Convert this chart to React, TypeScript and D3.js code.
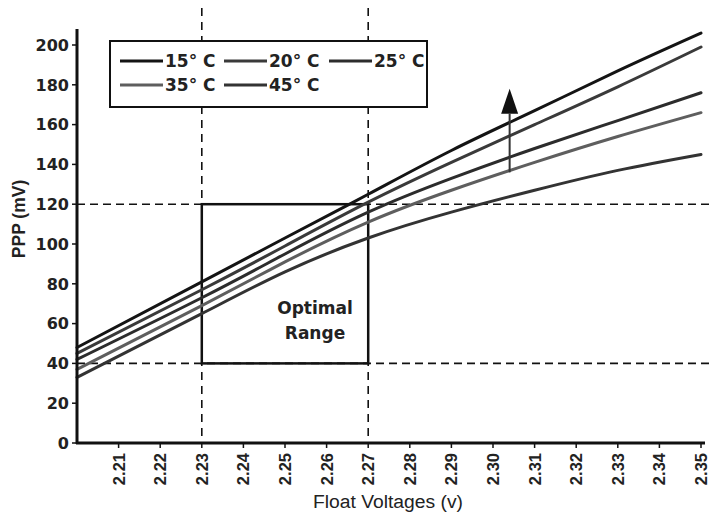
import * as d3 from "d3";

const VOLTAGES = [2.2, 2.23, 2.25, 2.27, 2.29, 2.31, 2.33, 2.35];
const PPP_15 = [48, 81, 103, 125, 147, 167, 187, 206];
const PPP_20 = [45, 77, 99, 121, 141, 160, 179, 199];
const PPP_25 = [42, 73, 95, 116, 133, 148, 162, 176];
const PPP_35 = [37, 69, 91, 111, 127, 141, 154, 166];
const PPP_45 = [33, 65, 86, 103, 116, 127, 137, 145];

const SERIES = [
  { label: "15° C", values: PPP_15, color: "#141414" },
  { label: "20° C", values: PPP_20, color: "#3a3a3a" },
  { label: "25° C", values: PPP_25, color: "#2c2c2c" },
  { label: "35° C", values: PPP_35, color: "#5e5e5e" },
  { label: "45° C", values: PPP_45, color: "#333333" },
];

const X_TICKS = [2.21, 2.22, 2.23, 2.24, 2.25, 2.26, 2.27, 2.28, 2.29, 2.3, 2.31, 2.32, 2.33, 2.34, 2.35];
const Y_TICKS = [0, 20, 40, 60, 80, 100, 120, 140, 160, 180, 200];
const OPTIMAL_V = [2.23, 2.27];
const OPTIMAL_PPP = [40, 120];
const ARROW = { v: 2.304, from: 136, to: 178 };

const WIDTH = 711;
const HEIGHT = 515;
const INK = "#111";
const BOLD_WIDE = "'DejaVu Sans', sans-serif";
const ARIAL = "'Liberation Sans', Arial, sans-serif";

const x = d3.scaleLinear().domain([2.2, 2.35]).range([77, 701]);
const y = d3.scaleLinear().domain([0, 200]).range([443, 45]);

type Pt = { v: number; p: number };

export default function App() {
  const line = d3
    .line<Pt>()
    .x((d) => x(d.v))
    .y((d) => y(d.p))
    .curve(d3.curveNatural);

  const ax = x(ARROW.v);
  const headBase = y(ARROW.to) + 25;

  // legend layout: three columns, two rows
  const legendCols = [120, 224, 329];
  const legendRows = [61, 85];

  return (
    <svg width={WIDTH} height={HEIGHT} style={{ position: "absolute", left: 0, top: 0, background: "#fff" }}>
      <rect width={WIDTH} height={HEIGHT} fill="#fff" />

      {/* dashed guide lines */}
      {OPTIMAL_V.map((v) => (
        <line key={v} x1={x(v)} x2={x(v)} y1={8} y2={y(0)} stroke={INK} strokeWidth={1.6} strokeDasharray="8 6" />
      ))}
      {OPTIMAL_PPP.map((p) => (
        <line key={p} x1={x(2.2)} x2={WIDTH} y1={y(p)} y2={y(p)} stroke={INK} strokeWidth={1.6} strokeDasharray="8 5" />
      ))}

      {/* optimal box */}
      <rect
        x={x(OPTIMAL_V[0])}
        y={y(OPTIMAL_PPP[1])}
        width={x(OPTIMAL_V[1]) - x(OPTIMAL_V[0])}
        height={y(OPTIMAL_PPP[0]) - y(OPTIMAL_PPP[1])}
        fill="none"
        stroke={INK}
        strokeWidth={2.5}
      />
      <text x={315} y={314} fontFamily={BOLD_WIDE} fontWeight="bold" fontSize={17} textAnchor="middle" fill="#222">
        Optimal
      </text>
      <text x={315} y={339} fontFamily={BOLD_WIDE} fontWeight="bold" fontSize={17} textAnchor="middle" fill="#222">
        Range
      </text>

      {/* temperature curves */}
      {SERIES.slice()
        .reverse()
        .map((s) => (
          <path
            key={s.label}
            d={line(VOLTAGES.map((v, i) => ({ v, p: s.values[i] }))) ?? undefined}
            fill="none"
            stroke={s.color}
            strokeWidth={3}
            strokeLinecap="round"
          />
        ))}

      {/* arrow */}
      <line x1={ax} x2={ax} y1={y(ARROW.from)} y2={headBase} stroke="#333" strokeWidth={2} />
      <path d={`M${ax},${y(ARROW.to)} L${ax + 8.5},${headBase} L${ax - 8.5},${headBase} Z`} fill="#111" />

      {/* axes */}
      <line x1={x(2.2)} x2={x(2.2)} y1={29} y2={y(0) + 1} stroke={INK} strokeWidth={3} />
      <line x1={x(2.2) - 1} x2={705} y1={y(0)} y2={y(0)} stroke={INK} strokeWidth={3} />
      {Y_TICKS.map((t) => (
        <g key={t}>
          <line x1={x(2.2) - 5} x2={x(2.2)} y1={y(t)} y2={y(t)} stroke={INK} strokeWidth={1.5} />
          <text x={69} y={y(t)} dy="0.36em" textAnchor="end" fontFamily={BOLD_WIDE} fontWeight="bold" fontSize={16} fill="#222">
            {t}
          </text>
        </g>
      ))}
      {X_TICKS.map((t) => (
        <g key={t}>
          <line x1={x(t)} x2={x(t)} y1={y(0)} y2={y(0) + 5} stroke={INK} strokeWidth={1.5} />
          <text
            transform={`translate(${x(t)},${y(0) + 10}) rotate(-90)`}
            dy="0.36em"
            textAnchor="end"
            fontFamily={ARIAL}
            fontWeight="bold"
            fontSize={16.5}
            fill="#222"
          >
            {d3.format(".2f")(t)}
          </text>
        </g>
      ))}
      <text x={388} y={508} textAnchor="middle" fontFamily={ARIAL} fontSize={18} textLength={150} lengthAdjust="spacingAndGlyphs" fill="#222">
        Float Voltages (v)
      </text>
      <text transform="translate(25,219) rotate(-90)" textAnchor="middle" fontFamily={ARIAL} fontWeight="bold" fontSize={17.5} fill="#222">
        PPP (mV)
      </text>

      {/* legend */}
      <rect x={110} y={41} width={317} height={66} fill="#fff" stroke={INK} strokeWidth={2} />
      {SERIES.map((s, i) => {
        const lx = legendCols[i % 3];
        const ly = legendRows[Math.floor(i / 3)];
        return (
          <g key={s.label}>
            <line x1={lx} x2={lx + 43} y1={ly} y2={ly} stroke={s.color} strokeWidth={3} />
            <text x={lx + 45} y={ly} dy="0.36em" fontFamily={BOLD_WIDE} fontWeight="bold" fontSize={17} fill="#222">
              {s.label}
            </text>
          </g>
        );
      })}
    </svg>
  );
}
